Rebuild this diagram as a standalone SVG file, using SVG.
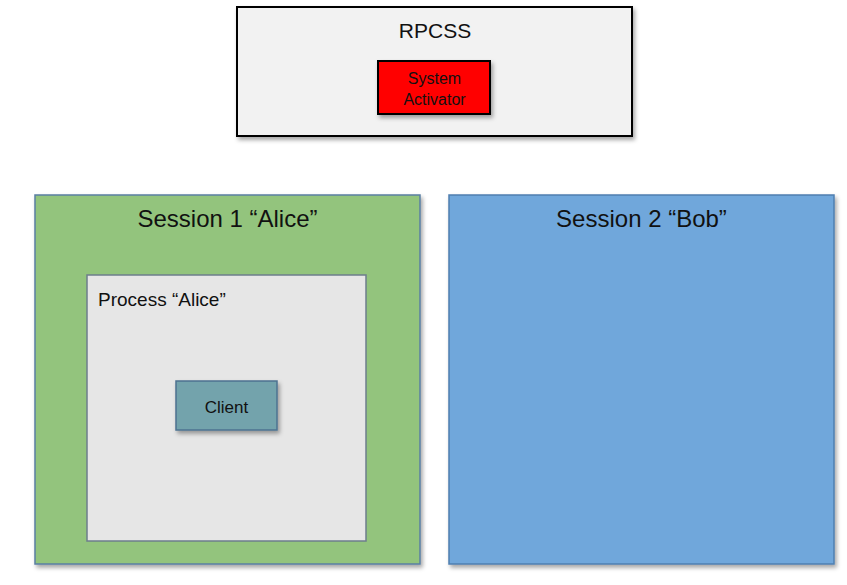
<svg xmlns="http://www.w3.org/2000/svg" width="847" height="585" viewBox="0 0 847 585">
<defs>
<filter id="sh" x="-10%" y="-10%" width="130%" height="130%">
<feDropShadow dx="2" dy="3" stdDeviation="2" flood-color="#000" flood-opacity="0.35"/>
</filter>
</defs>
<style>
text{font-family:"Liberation Sans",Arial,sans-serif;fill:#111}
.t{font-size:24px;text-anchor:middle}
</style>
<rect width="847" height="585" fill="#fff"/>
<g id="rpcss">
<rect x="237" y="7" width="395" height="129" fill="#f2f2f2" stroke="#000" stroke-width="2" filter="url(#sh)"/>
<text x="435" y="38" font-size="21" text-anchor="middle">RPCSS</text>
</g>
<g id="system-activator">
<rect x="378" y="61" width="112" height="53" fill="#ff0000" stroke="#000" stroke-width="2" filter="url(#sh)"/>
<text x="434.500" y="84" font-size="16" text-anchor="middle">System</text>
<text x="434.500" y="105" font-size="16" text-anchor="middle">Activator</text>
</g>
<g id="session1">
<rect x="35" y="195" width="385" height="369" fill="#93c47d" stroke="#5a7fa3" stroke-width="1.5" filter="url(#sh)"/>
<text class="t" x="227.500" y="227">Session 1 “Alice”</text>
</g>
<g id="process-alice">
<rect x="87" y="275" width="279" height="266" fill="#e6e6e6" stroke="#6d7d8c" stroke-width="1.5"/>
<text x="98" y="306" font-size="19">Process “Alice”</text>
</g>
<g id="client">
<rect x="176" y="381" width="101" height="49" fill="#73a3ac" stroke="#4d7290" stroke-width="1.5" filter="url(#sh)"/>
<text x="226.500" y="413" font-size="17" text-anchor="middle">Client</text>
</g>
<g id="session2">
<rect x="449" y="195" width="385" height="369" fill="#6fa7db" stroke="#4f7fb0" stroke-width="1.5" filter="url(#sh)"/>
<text class="t" x="641.500" y="227">Session 2 “Bob”</text>
</g>
<g id="connectors"></g>
</svg>
